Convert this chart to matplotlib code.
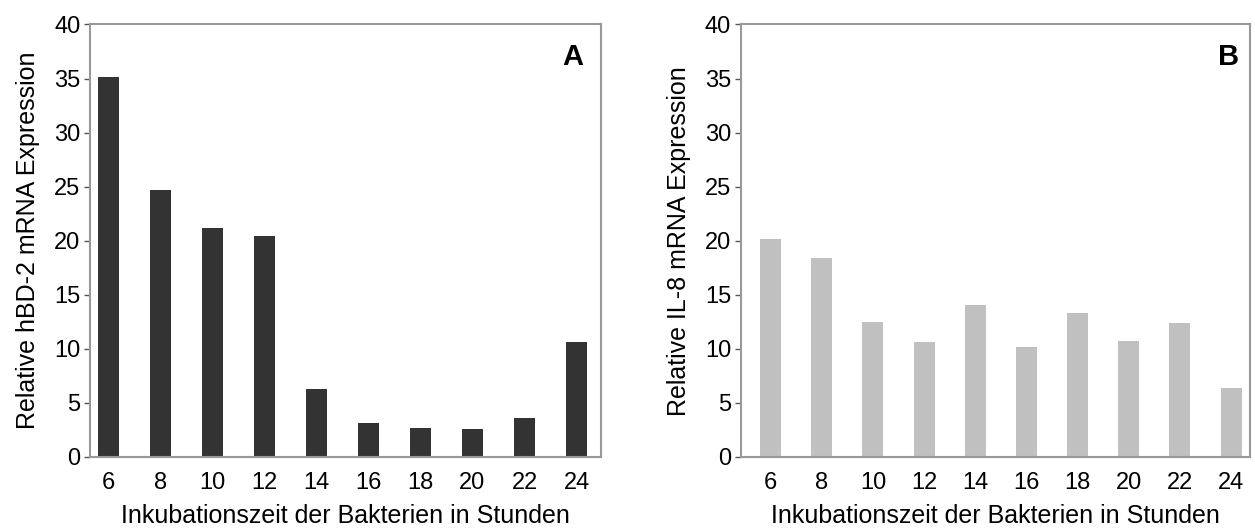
import numpy as np
import matplotlib.pyplot as plt

plt.rcParams['font.family'] = ['Liberation Sans', 'DejaVu Sans']

hours = ['6', '8', '10', '12', '14', '16', '18', '20', '22', '24']
hbd2 = [35.1, 24.7, 21.2, 20.4, 6.3, 3.1, 2.7, 2.6, 3.6, 10.6]
il8 = [20.2, 18.4, 12.5, 10.6, 14.1, 10.2, 13.3, 10.7, 12.4, 6.4]

fig = plt.figure(figsize=(12.55, 5.32), dpi=100)
ax1 = fig.add_axes([0.0717, 0.141, 0.4072, 0.813])
ax2 = fig.add_axes([0.5904, 0.141, 0.4056, 0.813])

panels = [
    (ax1, hbd2, '#333333', 'Relative hBD-2 mRNA Expression', 'A', (-0.35, 9.47), 0.965),
    (ax2, il8, '#c0c0c0', 'Relative IL-8 mRNA Expression', 'B', (-0.58, 9.37), 0.978),
]

x = np.arange(len(hours))
for ax, vals, col, ylab, tag, xl, tx in panels:
    ax.bar(x, vals, width=0.41, color=col)
    ax.set_xlim(*xl)
    ax.set_ylim(0, 40)
    ax.set_yticks(range(0, 41, 5))
    ax.set_xticks(x)
    ax.set_xticklabels(hours)
    for s in ax.spines.values():
        s.set_color('#999999')
        s.set_linewidth(1.5)
    ax.tick_params(axis='y', direction='out', length=4, width=1, color='#555555',
                   labelsize=17, pad=3)
    ax.tick_params(axis='x', length=0, labelsize=17, pad=11)
    ax.set_ylabel(ylab, fontsize=18, labelpad=10)
    ax.set_xlabel('Inkubationszeit der Bakterien in Stunden', fontsize=18, labelpad=7)
    ax.text(tx, 0.957, tag, transform=ax.transAxes, ha='right', va='top',
            fontsize=21, fontweight='bold')

fig.savefig('out.png', dpi=100)
